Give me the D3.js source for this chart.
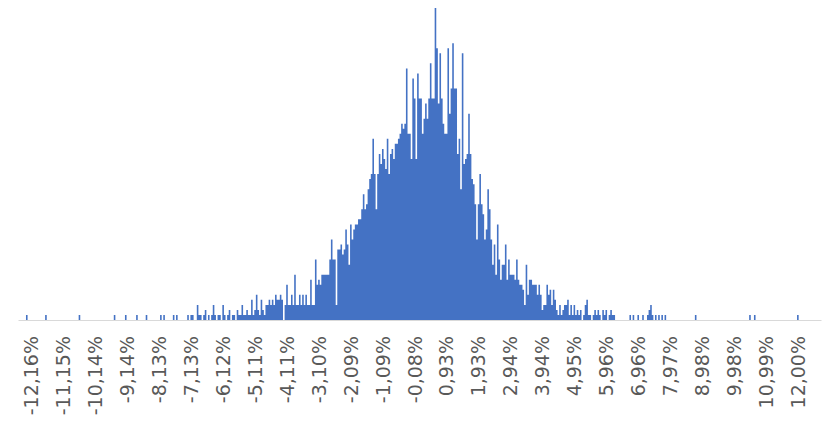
<!DOCTYPE html>
<html>
<head>
<meta charset="utf-8">
<script src="https://cdn.jsdelivr.net/npm/d3@7"></script>
<style>
  body { margin: 0; background: #fff; }
</style>
</head>
<body>
<svg id="chart" width="823" height="425"></svg>
<script>
// frequency per bin (bin width ~0.05%)
var tailLeft = [
  0,0,0,0,0,1,0,0,0,0,
  0,0,0,0,0,0,0,1,0,0,
  0,0,0,0,0,0,0,0,0,0,
  0,0,0,0,0,0,0,0,1,0,
  0,0,0,0,0,0,0,0,0,0,
  0,0,0,0,0,0,0,0,0,0,
  1,0,0,0,0,0,0,1,0,0,
  0,0,0,0,1,0,0,0,0,0,
  1,0,0,0,0,0,0,0,0,1,
  0,1,0,0,0,0,0,1,0,1,
  0,0,0,0,0,0,1,0,1,1,0,
  0,3,1,1,0,1,2,0,1,0,
  1,3,1,0,1,1,0,3,1,0,
  1,2,0,1,1,0,2,1,1,3
]
var body = [
  1,1,2,1,1,4,1,2,5,2,
  1,4,2,1,3,3,4,3,4,3,
  5,4,4,5,4,0,3,7,3,3,
  5,3,9,3,3,5,3,5,3,5,
  3,3,8,3,3,12,7,8,7,9,
  9,9,9,9,12,16,12,12,3,14,14,
  15,13,14,18,15,11,19,16,18,19,
  19,20,20,22,25,22,23,26,28,29,
  36,29,22,29,33,31,34,32,30,36,
  29,33,34,32,35,35,36,37,39,38,
  39,50,37,37,32,48,44,32,49,44,
  44,37,40,43,40,44,51,44,44,62,
  54,43,53,44,39,37,37,54,41,46,
  55,46,46,33,36,26,53,31,32,33,
  41,33,28,27,23,16,23,29,23,21,
  16,18,26,22,16,11,15,9,19,12,
  8,11,11,15,8,12,9,9,9,8,
  12,8,7,7,6,3,11,5,8,8,
  7,7,7,5,7,5,2,3,3,7,
  5,6,3,6,4,2,1,3,1,2
]
var tailRight = [
  3,3,4,1,3,1,3,1,2,1,
  2,0,1,3,4,1,1,0,1,2,
  1,2,1,0,2,1,2,0,1,2,
  1,1,0,0,0,0,0,0,0,0,0,
  1,0,1,0,0,1,0,0,1,0,
  0,1,2,3,1,0,1,0,1,0,
  1,0,1,0,0,0,0,0,0,0,
  0,0,0,0,0,0,0,0,0,0,
  0,1,0,0,0,0,0,0,0,0,
  0,0,0,0,0,0,0,0,0,0,
  0,0,0,0,0,0,0,0,0,0,
  0,0,0,0,0,1,0,0,1,0,
  0,0,0,0,0,0,0,0,0,0,
  0,0,0,0,0,0,0,0,0,0,
  0,0,0,0,0,1,0,0,0,0,
  0,0,0,0,0,0,0,0,0,0
]

// category labels shown (every 20th bin, first one on bin 8)
var tickLabels = ["-12,16%","-11,15%","-10,14%","-9,14%","-8,13%","-7,13%","-6,12%",
  "-5,11%","-4,11%","-3,10%","-2,09%","-1,09%","-0,08%","0,93%","1,93%","2,94%",
  "3,94%","4,95%","5,96%","6,96%","7,97%","8,98%","9,98%","10,99%","12,00%"]
var firstTickBin = 8, tickEvery = 20

var counts = tailLeft.concat(body, tailRight)

var svg = d3.select("#chart")

var x = d3.scaleBand()
    .domain(d3.range(counts.length))
    .range([18, 821])
    .padding(0)

var y = d3.scaleLinear()
    .domain([0, 62])
    .range([320, 8])

// bars drawn as one stepped area so neighbouring bins don't leave seams
var pts = counts.map(function(d, i){ return {x: x(i), v: d} })
pts.push({x: x(counts.length - 1) + x.bandwidth(), v: 0})

var area = d3.area()
    .curve(d3.curveStepAfter)
    .x(function(d){ return d.x })
    .y0(y(0))
    .y1(function(d){ return y(d.v) })

svg.append("path")
    .attr("class", "bars")
    .datum(pts)
    .attr("d", area)
    .attr("fill", "#4472c4")

var tickBins = tickLabels.map(function(t, i){ return firstTickBin + i*tickEvery })

var axis = svg.append("g")
    .attr("transform", "translate(0," + y(0) + ")")
    .call(d3.axisBottom(x)
        .tickValues(tickBins)
        .tickFormat(function(d, i){ return tickLabels[i] })
        .tickSize(0)
        .tickSizeOuter(0))

axis.select(".domain")
    .attr("stroke", "#d9d9d9")
    .attr("stroke-width", 1.2)

axis.selectAll("text")
    .attr("transform", "rotate(-90)")
    .attr("text-anchor", "end")
    .attr("x", -16)
    .attr("y", 0)
    .attr("dy", "0.36em")
    .style("font-family", "'DejaVu Sans', sans-serif")
    .style("font-size", "19px")
    .style("fill", "#595959")
</script>
</body>
</html>
